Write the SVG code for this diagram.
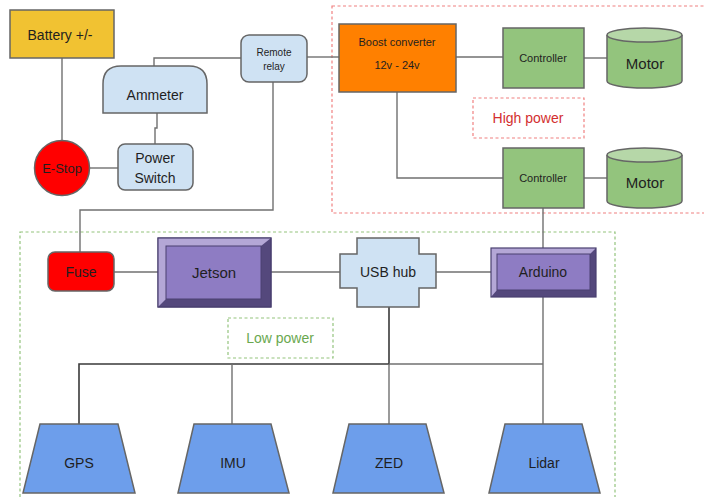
<svg xmlns="http://www.w3.org/2000/svg" width="704" height="497" viewBox="0 0 704 497">
<style>
text{font-family:"Liberation Sans",Arial,sans-serif;fill:#1f1f1f;text-anchor:middle;dominant-baseline:central}
.n{stroke:#666;stroke-width:1.5}
.c{fill:none;stroke:#707070;stroke-width:1.4}
.cd{fill:none;stroke:#3a3a3a;stroke-width:1.6}
.b{fill:#cfe2f3}
.g{fill:#93c47d}
.s{fill:#6d9eeb}
.hi{fill:#b4a7d6}
.lo{fill:#54487c}
.pu{fill:#8e7cc3;stroke:#4a4070;stroke-width:1}
</style>
<rect x="332" y="6" width="380" height="207" fill="none" stroke="#f08080" stroke-width="1.2" stroke-dasharray="3,2.5"/>
<rect x="20" y="232" width="595" height="280" fill="none" stroke="#93c47d" stroke-width="1.2" stroke-dasharray="3,2.5"/>
<g id="connectors">
<path class="c" d="M62 58V140"/>
<path class="c" d="M90 168H118"/>
<path class="c" d="M157 113V128H155V144"/>
<path class="c" d="M154 66V58H241"/>
<path class="c" d="M307 57H339"/>
<path class="c" d="M273 82V210H80V252"/>
<path class="c" d="M456 57H503"/>
<path class="c" d="M584 58H607"/>
<path class="c" d="M397 92V178H503"/>
<path class="c" d="M584 178H607"/>
<path class="c" d="M543 208V248"/>
<path class="c" d="M114 272H158"/>
<path class="c" d="M271 272H340"/>
<path class="c" d="M436 272H491"/>
<path class="cd" d="M389 307V364H79V424"/>
<path class="c" d="M232 364V424"/>
<path class="c" d="M389 364V424"/>
<path class="c" d="M389 364H543"/>
<path class="c" d="M543 297V424"/>
</g>
<g id="battery"><rect class="n" x="10" y="10" width="104" height="48" fill="#f1c232"/><text x="60" y="35" font-size="14">Battery +/-</text></g>
<g id="estop"><circle class="n" cx="62" cy="168" r="27.5" fill="#ff0000"/><text x="62" y="168" font-size="13">E-Stop</text></g>
<g id="ammeter"><path class="n b" d="M103 113V84Q103 66 121 66H189Q207 66 207 84V113Z"/><text x="155" y="95" font-size="14">Ammeter</text></g>
<g id="powerswitch"><rect class="n b" x="118" y="144" width="75" height="46" rx="7"/><text x="155" y="158" font-size="14">Power</text><text x="155" y="178" font-size="14">Switch</text></g>
<g id="relay"><rect class="n b" x="241" y="35" width="66" height="47" rx="8"/><text x="274" y="52" font-size="10">Remote</text><text x="274" y="66" font-size="10">relay</text></g>
<g id="boost"><rect class="n" x="339" y="24" width="117" height="68" fill="#ff8000"/><text x="397" y="42" font-size="11">Boost converter</text><text x="397" y="65" font-size="11">12v - 24v</text></g>
<g id="controller1"><rect class="n g" x="503" y="28" width="81" height="60"/><text x="543" y="58" font-size="11">Controller</text></g>
<g id="motor1"><path class="n g" d="M607 35V81A37.5 7 0 0 0 682 81V35"/><ellipse class="n" cx="644.5" cy="35" rx="37.5" ry="7" fill="#b6d7a8"/><text x="645" y="63" font-size="15">Motor</text></g>
<g id="highpower"><rect x="473" y="98" width="111" height="40" fill="none" stroke="#f08080" stroke-width="1.2" stroke-dasharray="3,2.5"/><text x="528" y="118" font-size="14" style="fill:#d32f2f">High power</text></g>
<g id="controller2"><rect class="n g" x="503" y="148" width="81" height="60"/><text x="543" y="178" font-size="11">Controller</text></g>
<g id="motor2"><path class="n g" d="M607 155V201A37.5 7 0 0 0 682 201V155"/><ellipse class="n" cx="644.5" cy="155" rx="37.5" ry="7" fill="#b6d7a8"/><text x="645" y="182" font-size="15">Motor</text></g>
<g id="fuse"><rect class="n" x="48" y="252" width="66" height="39" rx="7" fill="#ff0000"/><text x="81" y="272" font-size="14">Fuse</text></g>
<g id="jetson"><rect x="158" y="238" width="113" height="69" fill="#54487c" stroke="#4a4070"/><path class="hi" d="M158 238H271L261 246H166V299L158 307Z"/><rect class="pu" x="166" y="246" width="95" height="53"/><rect x="158" y="238" width="113" height="69" fill="none" stroke="#4a4070" stroke-width="1.2"/><text x="214" y="272" font-size="15">Jetson</text></g>
<g id="usbhub"><path class="n b" d="M357 238H419V254H436V288H419V307H357V288H340V254H357Z"/><text x="388" y="272" font-size="14">USB hub</text></g>
<g id="arduino"><rect x="491" y="248" width="105" height="49" fill="#54487c"/><path class="hi" d="M491 248H596L590 254H497V290L491 297Z"/><rect class="pu" x="497" y="254" width="93" height="36"/><rect x="491" y="248" width="105" height="49" fill="none" stroke="#4a4070" stroke-width="1.2"/><text x="543" y="272" font-size="14">Arduino</text></g>
<g id="lowpower"><rect x="228" y="318" width="105" height="40" fill="none" stroke="#93c47d" stroke-width="1.2" stroke-dasharray="3,2.5"/><text x="280" y="338" font-size="14" style="fill:#6aa84f">Low power</text></g>
<g id="gps"><path class="n s" d="M40 424H118L135 493H23Z"/><text x="79" y="463" font-size="14">GPS</text></g>
<g id="imu"><path class="n s" d="M194 424H271L289 493H178Z"/><text x="233" y="463" font-size="14">IMU</text></g>
<g id="zed"><path class="n s" d="M349 424H426L444 493H333Z"/><text x="389" y="463" font-size="14">ZED</text></g>
<g id="lidar"><path class="n s" d="M505 424H582L600 493H489Z"/><text x="544" y="463" font-size="14">Lidar</text></g>
</svg>
